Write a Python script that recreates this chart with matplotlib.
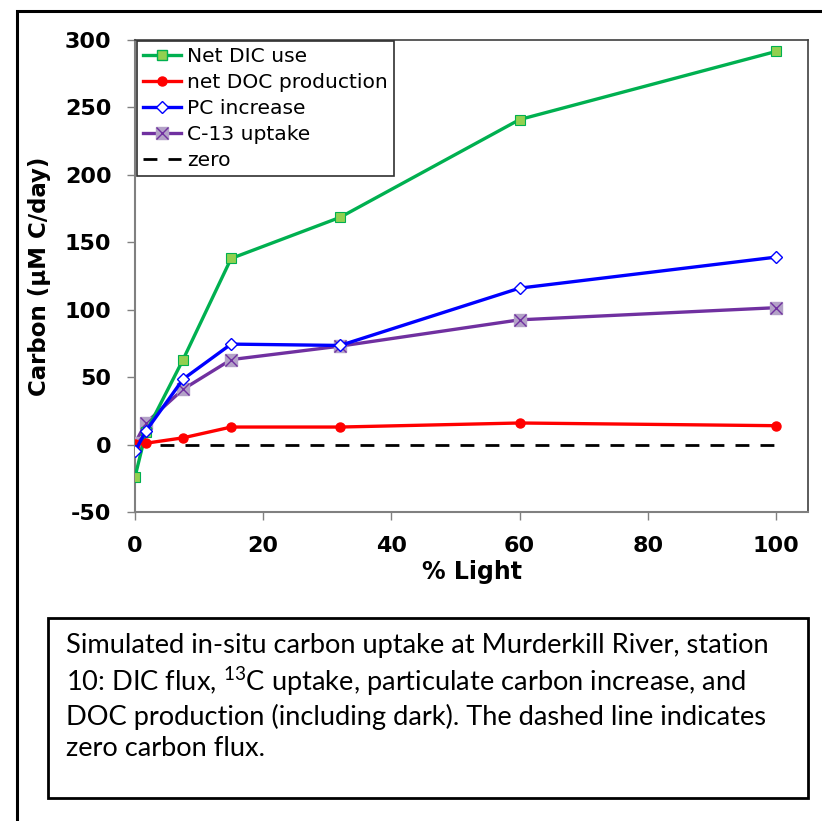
import matplotlib
matplotlib.use("Agg")
import matplotlib.pyplot as plt
from matplotlib.patches import Rectangle
from matplotlib.lines import Line2D

plt.rcParams["axes.unicode_minus"] = False

# % light levels of the incubations
light = [0, 1.7, 7.5, 15, 32, 60, 100]

# carbon fluxes (uM C/day)
net_dic = [-24, 9, 63, 138, 168.5, 241, 291.5]
net_doc = [0.5, 1, 5, 13, 13, 16, 14]
pc_inc = [-5, 10, 48.5, 74.5, 73.5, 116, 139]
c13 = [1, 16, 41, 63, 73, 92.5, 101.5]
zero = [0, 0, 0, 0, 0, 0, 0]

caption = ("Simulated in-situ carbon uptake at Murderkill River, station\n"
           "10: DIC flux, $\\mathregular{^{13}}$C uptake, particulate carbon increase, and\n"
           "DOC production (including dark). The dashed line indicates\n"
           "zero carbon flux.")

W, H = 822, 821
fig = plt.figure(figsize=(W / 100, H / 100), dpi=100)

def px(x0, y0, x1, y1):
    # pixel box (from top-left) -> figure fraction [left, bottom, width, height]
    return [x0 / W, 1 - y1 / H, (x1 - x0) / W, (y1 - y0) / H]

ax = fig.add_axes(px(135, 40, 808, 512))

dash = (0, (5, 4))
ax.plot(light, zero, color="black", lw=2, ls=dash, zorder=2)
ax.plot(light, net_dic, color="#00B050", lw=2.4, marker="s", ms=6.5,
        mfc="#92D050", mec="#00B050", mew=0.8, zorder=4)
ax.plot(light, net_doc, color="#FF0000", lw=2.4, marker="o", ms=6.5,
        mfc="#FF0000", mec="#FF0000", zorder=4)
ax.plot(light, pc_inc, color="#0000FF", lw=2.4, marker="D", ms=6,
        mfc="white", mec="#0000FF", mew=1, zorder=4)
ax.plot(light, c13, color="#7030A0", lw=2.4, marker="s", ms=8.5,
        mfc="#B3A2C7", mec="#B3A2C7", zorder=3)
ax.plot(light, c13, ls="none", marker="x", ms=8.5, mec="#7030A0", mew=1, zorder=3)

ax.set_xlim(0, 105)
ax.set_ylim(-50, 300)
ax.set_xticks([0, 20, 40, 60, 80, 100])
ax.set_yticks(range(-50, 301, 50))

for s in ["left", "bottom"]:
    ax.spines[s].set_color("#808080")
    ax.spines[s].set_linewidth(1.5)
for s in ["top", "right"]:
    ax.spines[s].set_color("#404040")
    ax.spines[s].set_linewidth(1.2)

ax.tick_params(direction="out", length=6, width=1, color="#808080", pad=11,
               labelsize=16)
for lab in ax.get_xticklabels() + ax.get_yticklabels():
    lab.set_fontweight("bold")

ax.set_xlabel("% Light", fontsize=17, fontweight="bold", labelpad=3)
ax.set_ylabel("Carbon (µM C/day)", fontsize=16.5, fontweight="bold", labelpad=10)

# legend, purple entry drawn as square + x
h_dic = Line2D([], [], color="#00B050", lw=2.4, marker="s", ms=6.5, mfc="#92D050", mec="#00B050")
h_doc = Line2D([], [], color="#FF0000", lw=2.4, marker="o", ms=6.5)
h_pc = Line2D([], [], color="#0000FF", lw=2.4, marker="D", ms=6, mfc="white", mec="#0000FF")
h_c1 = Line2D([], [], color="#7030A0", lw=2.4, marker="s", ms=8.5, mfc="#B3A2C7", mec="#B3A2C7")
h_c2 = Line2D([], [], ls="none", marker="x", ms=8.5, mec="#7030A0")
h_zero = Line2D([], [], color="black", lw=2, ls=dash)
leg = ax.legend([h_dic, h_doc, h_pc, (h_c1, h_c2), h_zero],
                ["Net DIC use", "net DOC production", "PC increase", "C-13 uptake", "zero"],
                loc="upper left", bbox_to_anchor=(137 / W, 1 - 41 / H),
                bbox_transform=fig.transFigure, borderaxespad=0,
                fancybox=False, framealpha=1, edgecolor="#303030",
                fontsize=14.6, handlelength=1.85, handletextpad=0.3,
                labelspacing=0.34, borderpad=0.3)
leg.get_frame().set_linewidth(1.2)

# outer frame of the figure panel
fig.patches.append(Rectangle((17 / W, -0.1), 1.2, 1 - 11 / H + 0.1,
                             transform=fig.transFigure, fill=False,
                             ec="black", lw=2.2))

# caption box
box = px(48, 618, 808, 798)
fig.patches.append(Rectangle((box[0], box[1]), box[2], box[3],
                             transform=fig.transFigure, fill=False,
                             ec="black", lw=2))
fig.text(66 / W, 1 - 633 / H, caption, family="Lato", fontsize=19.6,
         va="top", ha="left", linespacing=1.28)

fig.savefig("out.png", dpi=100)
